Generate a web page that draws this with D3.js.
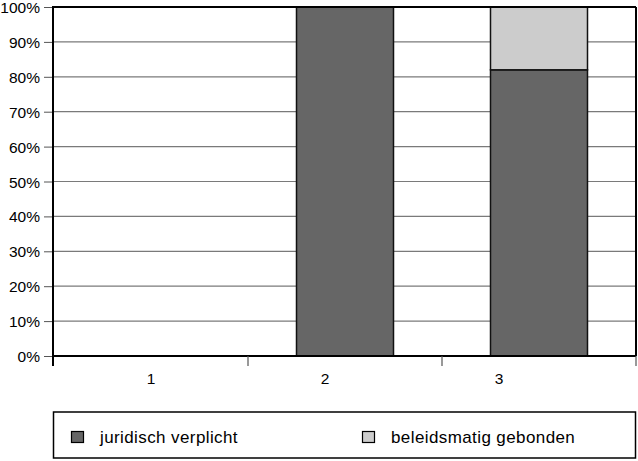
<!DOCTYPE html>
<html><head><meta charset="utf-8">
<script src="https://cdn.jsdelivr.net/npm/d3@7"></script>
<style>body{margin:0;background:#fff}svg{display:block}text{font-family:"Liberation Sans",Arial,sans-serif;fill:#000}</style>
</head><body><svg id="c" width="638" height="461"></svg>
<script>
const categories = ["1", "2", "3"];
const seriesNames = ["juridisch verplicht", "beleidsmatig gebonden"];
const juridisch = [0, 100, 82];
const beleid = [0, 0, 18];
const yTicks = [0, 10, 20, 30, 40, 50, 60, 70, 80, 90, 100];
const colors = ["#666666", "#cccccc"];

const svg = d3.select("#c");
const L = 54, R = 636, T = 7, B = 356;
const x = d3.scaleBand().domain(categories).range([L, R]).paddingInner(0).paddingOuter(0);
const y = d3.scaleLinear().domain([0, 100]).range([B, T]);
const labelX = d3.scalePoint().domain(categories).range([151, 499]);

// gridlines
svg.append("g").selectAll("line").data(yTicks).join("line")
  .attr("x1", L).attr("x2", R).attr("y1", d => y(d)).attr("y2", d => y(d))
  .attr("stroke", "#7a7a7a").attr("stroke-width", 1.2);

// y axis
const ya = svg.append("g").attr("transform", `translate(${L},0)`)
  .call(d3.axisLeft(y).tickValues(yTicks).tickSize(10).tickPadding(4).tickFormat(d => d + "%"));
ya.select(".domain").remove();
ya.selectAll(".tick line").attr("stroke", "#555").attr("stroke-width", 1);
ya.selectAll("text").style("font-size", "15.5px").attr("font-family", "Liberation Sans, Arial, sans-serif").attr("dy", "0.36em").attr("fill", "#000");

// bars
const stack = d3.stack().keys([0, 1]).value((d, k) => d[k]);
const rows = categories.map((c, i) => [juridisch[i], beleid[i]]);
const stacked = stack(rows);
const bw = x.bandwidth() / 2;
stacked.forEach((s, si) => {
  svg.append("g").selectAll("rect").data(s.map((d, i) => ({d, i})).filter(o => o.d[1] - o.d[0] > 0)).join("rect")
    .attr("x", o => x(categories[o.i]) + (x.bandwidth() - bw) / 2)
    .attr("width", bw)
    .attr("y", o => y(o.d[1]))
    .attr("height", o => y(o.d[0]) - y(o.d[1]))
    .attr("fill", colors[si]).attr("stroke", "#111").attr("stroke-width", 1.5);
});

// frame
svg.append("line").attr("x1", L - 1).attr("x2", R).attr("y1", T).attr("y2", T).attr("stroke", "#000").attr("stroke-width", 2);
svg.append("line").attr("x1", R).attr("x2", R).attr("y1", T).attr("y2", B).attr("stroke", "#000").attr("stroke-width", 2);
svg.append("line").attr("x1", L - 1).attr("x2", L - 1).attr("y1", T - 1).attr("y2", B + 10).attr("stroke", "#000").attr("stroke-width", 2);
svg.append("line").attr("x1", L - 1).attr("x2", R).attr("y1", B).attr("y2", B).attr("stroke", "#000").attr("stroke-width", 2);

// x ticks at boundaries
const bounds = categories.map(c => x(c)).concat([R]);
svg.append("g").selectAll("line").data(bounds.slice(1)).join("line")
  .attr("x1", d => d).attr("x2", d => d).attr("y1", B).attr("y2", B + 10)
  .attr("stroke", "#555").attr("stroke-width", 1.2);

// x labels
svg.append("g").selectAll("text").data(categories).join("text")
  .attr("x", d => labelX(d)).attr("y", 384).attr("text-anchor", "middle")
  .style("font-size", "15.5px").text(d => d);

// legend
svg.append("rect").attr("x", 53.5).attr("y", 412).attr("width", 582).attr("height", 46)
  .attr("fill", "#fff").attr("stroke", "#000").attr("stroke-width", 1.5);
const lx = [71, 362], tx = [100, 391];
seriesNames.forEach((n, i) => {
  svg.append("rect").attr("x", lx[i] + 0.5).attr("y", 431.5).attr("width", 12).attr("height", 11)
    .attr("fill", colors[i]).attr("stroke", "#000").attr("stroke-width", 1.2);
  svg.append("text").attr("x", tx[i]).attr("y", 443).style("font-size", "17px").style("letter-spacing", "0.4px").text(n);
});
</script></body></html>
